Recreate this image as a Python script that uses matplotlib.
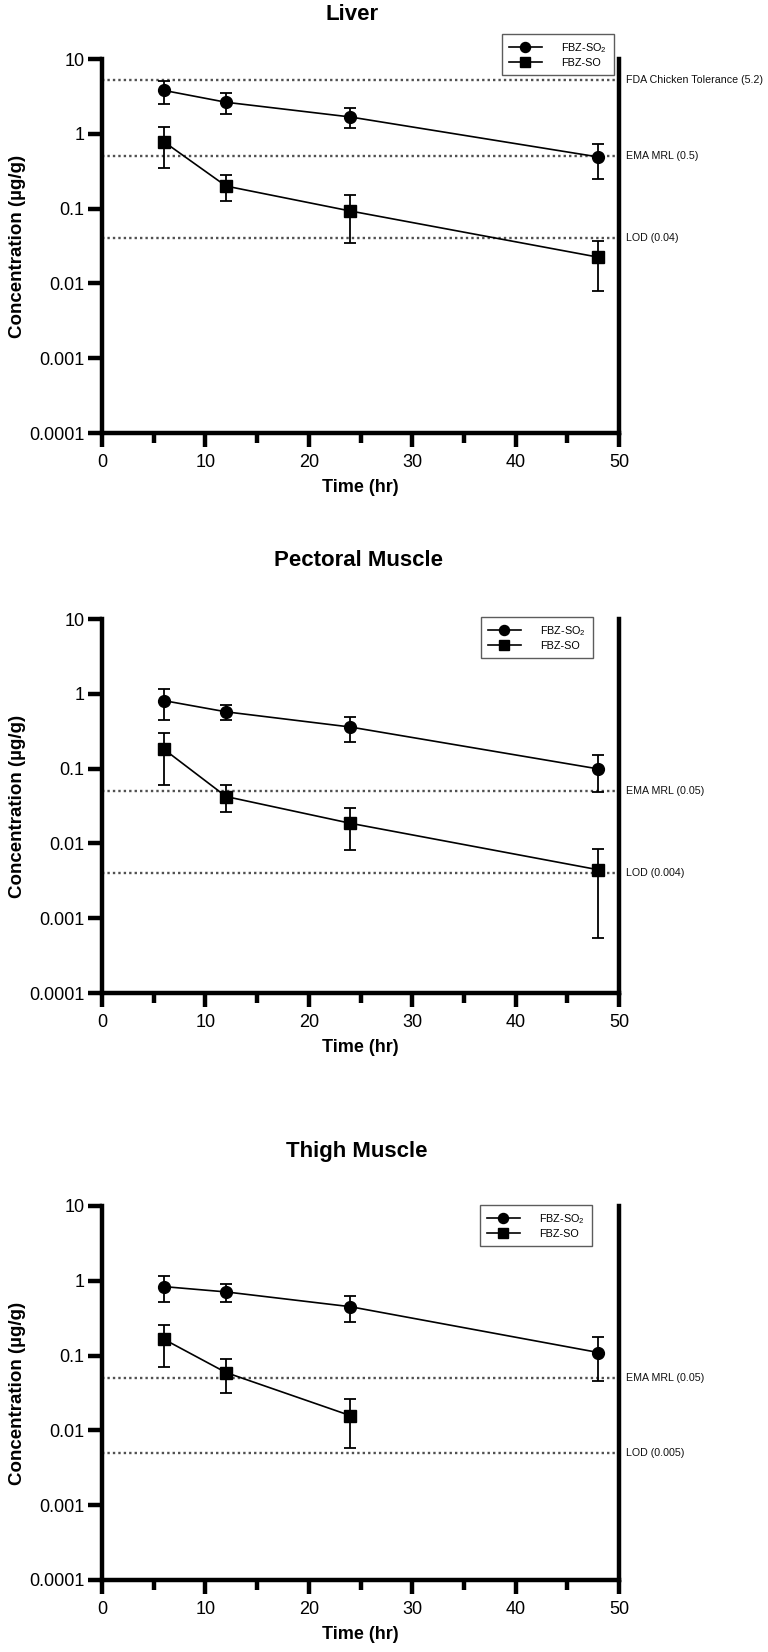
import matplotlib
matplotlib.use("Agg")
import matplotlib.pyplot as plt
import numpy as np
from matplotlib.ticker import FixedLocator, NullLocator
import matplotlib.transforms as mtransforms

plt.rcParams['font.family'] = ['Liberation Sans', 'DejaVu Sans']
plt.rcParams['mathtext.default'] = 'regular'

# ---------------- data ----------------
time = [6, 12, 24, 48]

liver_so2 = [3.8, 2.64, 1.68, 0.49]
liver_so2_hi = [5.1, 3.5, 2.22, 0.73]
liver_so2_lo = [2.5, 1.82, 1.2, 0.245]
liver_so = [0.78, 0.20, 0.093, 0.0224]
liver_so_hi = [1.22, 0.284, 0.153, 0.0366]
liver_so_lo = [0.35, 0.126, 0.035, 0.0078]

pect_so2 = [0.81, 0.574, 0.36, 0.099]
pect_so2_hi = [1.15, 0.706, 0.486, 0.152]
pect_so2_lo = [0.452, 0.448, 0.23, 0.0484]
pect_so = [0.181, 0.0423, 0.0186, 0.00444]
pect_so_hi = [0.301, 0.0608, 0.0294, 0.00845]
pect_so_lo = [0.0608, 0.026, 0.0081, 0.000545]

thigh_so2 = [0.836, 0.71, 0.451, 0.11]
thigh_so2_hi = [1.15, 0.914, 0.621, 0.177]
thigh_so2_lo = [0.52, 0.52, 0.281, 0.0455]
thigh_time_so = [6, 12, 24]
thigh_so = [0.165, 0.0593, 0.0158]
thigh_so_hi = [0.26, 0.089, 0.0262]
thigh_so_lo = [0.0708, 0.0313, 0.00578]

liver_refs = [5.2, 0.5, 0.04]
liver_ref_labels = ['FDA Chicken Tolerance (5.2)', 'EMA MRL (0.5)', 'LOD (0.04)']
pect_refs = [0.05, 0.004]
pect_ref_labels = ['EMA MRL (0.05)', 'LOD (0.004)']
thigh_refs = [0.05, 0.005]
thigh_ref_labels = ['EMA MRL (0.05)', 'LOD (0.005)']

titles = ['Liver', 'Pectoral Muscle', 'Thigh Muscle']
series_labels = ['FBZ-SO$_2$', 'FBZ-SO']
yticks = [1e-4, 1e-3, 1e-2, 1e-1, 1, 10]
ytick_labels = ['0.0001', '0.001', '0.01', '0.1', '1', '10']
xticks = [0, 10, 20, 30, 40, 50]
xminor = [5, 15, 25, 35, 45]

panels = [
    dict(title=titles[0], so2=(time, liver_so2, liver_so2_lo, liver_so2_hi),
         so=(time, liver_so, liver_so_lo, liver_so_hi),
         refs=liver_refs, ref_labels=liver_ref_labels),
    dict(title=titles[1], so2=(time, pect_so2, pect_so2_lo, pect_so2_hi),
         so=(time, pect_so, pect_so_lo, pect_so_hi),
         refs=pect_refs, ref_labels=pect_ref_labels),
    dict(title=titles[2], so2=(time, thigh_so2, thigh_so2_lo, thigh_so2_hi),
         so=(thigh_time_so, thigh_so, thigh_so_lo, thigh_so_hi),
         refs=thigh_refs, ref_labels=thigh_ref_labels),
]

W, H = 768, 1652
fig = plt.figure(figsize=(W / 100, H / 100), dpi=100)

# layout in pixels
ax_left, ax_right = 102, 619
ax_tb = [(59, 433), (619, 993), (1206, 1580)]
title_xy = [(352, 14), (359, 560), (357, 1151)]
legend_tl = [(502, 34), (481, 617), (480, 1205)]

SPW = 3.2
AXH = 374.0

for p, (top, bot), (tx, ty), (lx, ly) in zip(panels, ax_tb, title_xy, legend_tl):
    ax = fig.add_axes([ax_left / W, 1 - bot / H, (ax_right - ax_left) / W, (bot - top) / H])
    ax.set_yscale('log')
    ax.set_ylim(1e-4, 10)
    ax.set_xlim(0, 50)

    # reference lines with labels at the right
    trans = mtransforms.blended_transform_factory(ax.transAxes, ax.transData)
    for v, lab in zip(p['refs'], p['ref_labels']):
        ax.axhline(v, color='#505050', ls=(0, (1, 1.3)), lw=1.7, zorder=1)
        ax.text((626 - ax_left) / (ax_right - ax_left), v, lab, transform=trans,
                va='center', ha='left', fontsize=7.7, color='#111111')

    handles = []
    for key, mk in (('so2', 'o'), ('so', 's')):
        x, y, lo, hi = p[key]
        y = np.array(y); lo = np.array(lo); hi = np.array(hi)
        h = ax.errorbar(x, y, yerr=[y - lo, hi - y], fmt='-', marker=mk, color='black',
                        ms=8.5, lw=1.2, elinewidth=1.3, capsize=4.5, capthick=1.3,
                        zorder=3, clip_on=False)
        handles.append(h[0])

    ax.spines['top'].set_visible(False)
    for s in ('left', 'bottom', 'right'):
        ax.spines[s].set_linewidth(SPW)
        ax.spines[s].set_color('black')

    ax.yaxis.set_major_locator(FixedLocator(yticks))
    ax.set_yticklabels(ytick_labels)
    ax.yaxis.set_minor_locator(NullLocator())
    ax.xaxis.set_major_locator(FixedLocator(xticks))
    ax.xaxis.set_minor_locator(FixedLocator(xminor))
    ax.set_xticklabels([str(t) for t in xticks])
    ax.tick_params(axis='y', which='major', length=10, width=SPW, labelsize=13, pad=2.5,
                   right=False)
    ax.tick_params(axis='x', which='major', length=10, width=SPW, labelsize=13, pad=5)
    ax.tick_params(axis='x', which='minor', length=7.5, width=SPW)

    ax.set_xlabel('Time (hr)', fontsize=13, fontweight='bold', va='top')
    ax.xaxis.set_label_coords(0.5, -(479 - 433) / AXH)
    ax.set_ylabel('Concentration (µg/g)', fontsize=13.5, fontweight='bold')
    ax.yaxis.set_label_coords((26 - ax_left) / (ax_right - ax_left), 0.5)

    fig.text(tx / W, 1 - ty / H, p['title'], ha='center', va='center',
             fontsize=16, fontweight='bold')

    leg = ax.legend(handles, series_labels, loc='upper left',
                    bbox_to_anchor=(lx / W, 1 - ly / H), bbox_transform=fig.transFigure,
                    fontsize=7.8, frameon=True, fancybox=False, edgecolor='#333333',
                    handlelength=3.0, handletextpad=1.8, labelspacing=0.3,
                    borderpad=0.65, borderaxespad=0, markerscale=0.85)
    leg.get_frame().set_linewidth(1.0)

fig.savefig('out.png', dpi=100)
